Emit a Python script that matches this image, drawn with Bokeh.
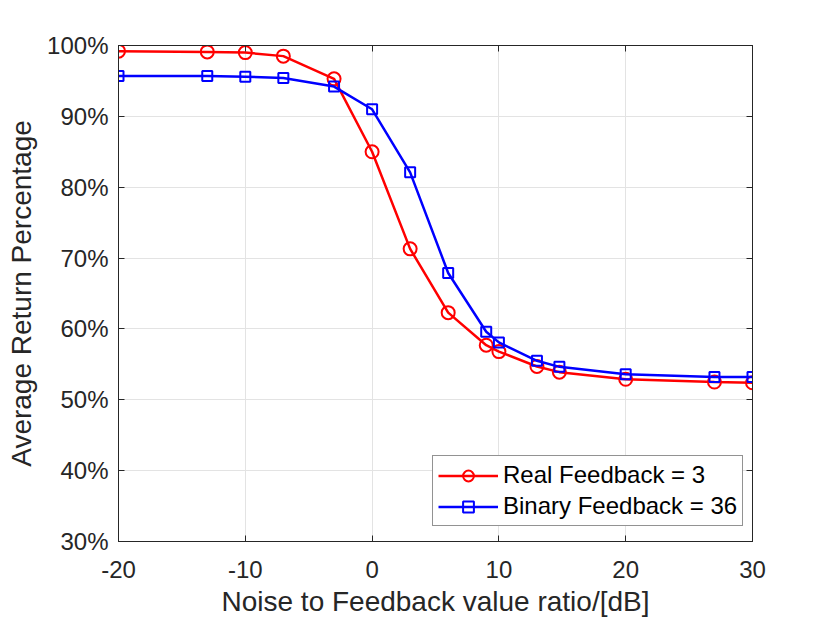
from bokeh.plotting import figure
from bokeh.models import (Range1d, FixedTicker, PrintfTickFormatter, LinearAxis,
                          Legend, LegendItem, ColumnDataSource, CustomJSTickFormatter)
from bokeh.embed import file_html
from bokeh.resources import INLINE

# ---- data ----
x_db = [-20, -13, -10, -7, -3, 0, 3, 6, 9, 10, 13, 14.77, 20, 27, 30]
real_feedback = [99.2, 99.1, 99.0, 98.5, 95.3, 85.0, 71.3, 62.3, 57.7, 56.8, 54.7, 53.9, 52.9, 52.5, 52.4]
binary_feedback = [95.7, 95.7, 95.6, 95.4, 94.2, 91.0, 82.1, 67.9, 59.6, 58.1, 55.5, 54.65, 53.6, 53.2, 53.2]
x_ticks = [-20, -10, 0, 10, 20, 30]
y_ticks = [30, 40, 50, 60, 70, 80, 90, 100]
series_labels = ["Real Feedback = 3", "Binary Feedback = 36"]
x_label = "Noise to Feedback value ratio/[dB]"
y_label = "Average Return Percentage"

FONT = "Liberation Sans"
DARK = "#262626"
RED = "#ff0000"
BLUE = "#0000ff"

p = figure(frame_width=634, frame_height=496, output_backend="svg", toolbar_location=None,
           x_range=Range1d(-20, 30), y_range=Range1d(30, 100),
           min_border_left=118, min_border_right=70, min_border_top=45, min_border_bottom=70)
p.background_fill_color = "white"
p.border_fill_color = "white"
p.outline_line_color = DARK
p.outline_line_width = 1

for ax in (p.xaxis[0], p.yaxis[0]):
    ax.major_tick_in = 6
    ax.major_tick_out = 0
    ax.minor_tick_line_color = None
    ax.axis_line_color = DARK
    ax.major_tick_line_color = DARK
    ax.major_label_text_font = FONT
    ax.major_label_text_font_size = "24px"
    ax.major_label_text_color = DARK
    ax.axis_label_text_font = FONT
    ax.axis_label_text_font_size = "28px"
    ax.axis_label_text_font_style = "normal"
    ax.axis_label_text_color = DARK

p.xaxis[0].ticker = FixedTicker(ticks=x_ticks)
p.yaxis[0].ticker = FixedTicker(ticks=y_ticks)
p.xaxis[0].formatter = PrintfTickFormatter(format="%d")
p.yaxis[0].formatter = PrintfTickFormatter(format="%d%%")
p.xaxis[0].axis_label = x_label
p.yaxis[0].axis_label = y_label
p.xaxis[0].major_label_standoff = 19
p.yaxis[0].major_label_standoff = 10
p.xaxis[0].axis_label_standoff = 5
p.yaxis[0].axis_label_standoff = 7

# mirrored axes (ticks only) on top and right
blank_fmt = CustomJSTickFormatter(code="return '';")
top_ax = LinearAxis(ticker=FixedTicker(ticks=x_ticks), major_tick_in=6, major_tick_out=0,
                    minor_tick_line_color=None, axis_line_color=DARK, major_tick_line_color=DARK,
                    formatter=blank_fmt)
right_ax = LinearAxis(ticker=FixedTicker(ticks=y_ticks), major_tick_in=6, major_tick_out=0,
                      minor_tick_line_color=None, axis_line_color=DARK, major_tick_line_color=DARK,
                      formatter=blank_fmt)
p.add_layout(top_ax, "above")
p.add_layout(right_ax, "right")

p.xgrid.ticker = FixedTicker(ticks=x_ticks)
p.ygrid.ticker = FixedTicker(ticks=y_ticks)
p.grid.grid_line_color = "#e3e3e3"
p.grid.grid_line_width = 1

src = ColumnDataSource(dict(x=x_db, real=real_feedback, binary=binary_feedback))

p.line("x", "real", source=src, line_color=RED, line_width=2.5)
p.scatter("x", "real", source=src, marker="circle", size=13, fill_color=None,
          line_color=RED, line_width=2)
p.line("x", "binary", source=src, line_color=BLUE, line_width=2.5)
p.scatter("x", "binary", source=src, marker="square", size=10, fill_color=None,
          line_color=BLUE, line_width=2)

# legend-only renderers (smaller markers, as in the reference legend); no visible data
nan = float("nan")
blank = ColumnDataSource(dict(x=[nan], y=[nan]))
lr1 = p.line("x", "y", source=blank, line_color=RED, line_width=2.5)
mr1 = p.scatter("x", "y", source=blank, marker="circle", size=9, fill_color=None,
                line_color=RED, line_width=2)
lr2 = p.line("x", "y", source=blank, line_color=BLUE, line_width=2.5)
mr2 = p.scatter("x", "y", source=blank, marker="square", size=7, fill_color=None,
                line_color=BLUE, line_width=2)

legend = Legend(items=[LegendItem(label=series_labels[0], renderers=[lr1, mr1], index=0),
                       LegendItem(label=series_labels[1], renderers=[lr2, mr2], index=0)],
                location=(314, 15), orientation="vertical",
                label_text_font=FONT, label_text_font_size="24px", label_text_color="black",
                glyph_width=60, glyph_height=27, label_height=27, label_standoff=5,
                spacing=3, padding=5, margin=0,
                border_line_color=DARK, border_line_width=1,
                background_fill_color="white", background_fill_alpha=1)
p.add_layout(legend, "center")

open("out.html", "w").write(file_html(p, INLINE))
